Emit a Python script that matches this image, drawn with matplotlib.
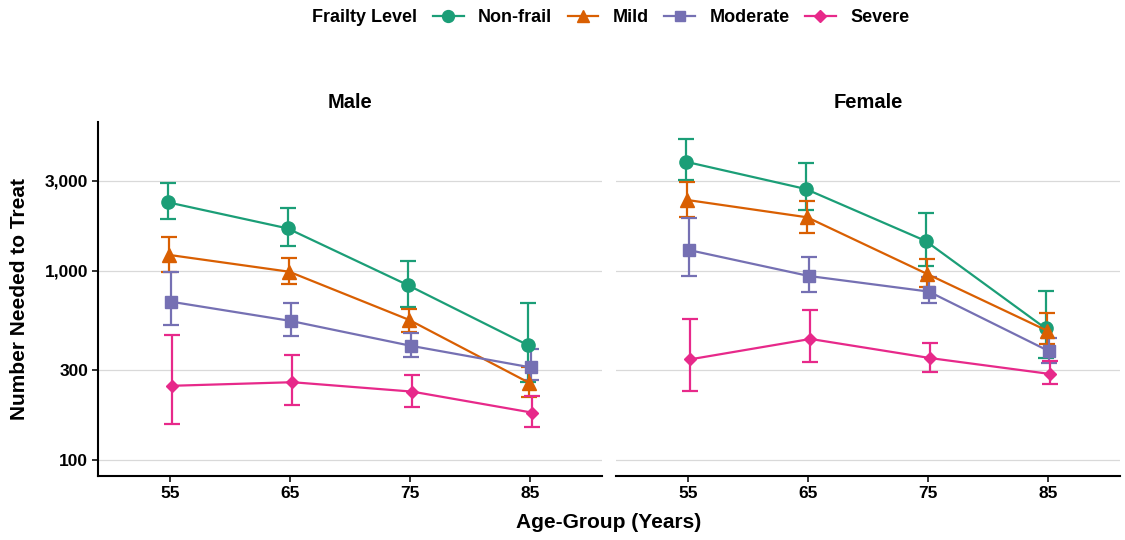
import matplotlib
matplotlib.use("Agg")
import matplotlib.pyplot as plt
from matplotlib.lines import Line2D
from matplotlib.ticker import FixedLocator, FixedFormatter, NullLocator
import numpy as np

plt.rcParams['font.family'] = ['Liberation Sans', 'DejaVu Sans']
plt.rcParams['font.weight'] = 'bold'

# ---- data ----
age_groups = ["55", "65", "75", "85"]
panels = ["Male", "Female"]
levels = ["Non-frail", "Mild", "Moderate", "Severe"]
colors = ["#1B9E77", "#D95F02", "#7570B3", "#E7298A"]
markers = ["o", "^", "s", "D"]
msizes = [9.5, 9.5, 8.5, 6.5]

male_nnt = {
    "Non-frail": [2310, 1680, 843, 406],
    "Mild":      [1216, 991, 551, 256],
    "Moderate":  [688, 544, 402, 309],
    "Severe":    [247, 258, 230, 178],
}
male_lo = {
    "Non-frail": [1890, 1360, 647, 258],
    "Mild":      [988, 853, 477, 215],
    "Moderate":  [518, 453, 349, 265],
    "Severe":    [156, 195, 191, 150],
}
male_hi = {
    "Non-frail": [2930, 2146, 1134, 680],
    "Mild":      [1508, 1172, 629, 312],
    "Moderate":  [985, 675, 468, 385],
    "Severe":    [459, 359, 282, 218],
}
female_nnt = {
    "Non-frail": [3786, 2716, 1442, 497],
    "Mild":      [2375, 1923, 964, 483],
    "Moderate":  [1291, 941, 778, 377],
    "Severe":    [341, 437, 346, 285],
}
female_lo = {
    "Non-frail": [3030, 2103, 1067, 345],
    "Mild":      [1923, 1595, 826, 410],
    "Moderate":  [941, 778, 675, 327],
    "Severe":    [233, 329, 293, 251],
}
female_hi = {
    "Non-frail": [4977, 3742, 2034, 784],
    "Mild":      [2967, 2356, 1157, 597],
    "Moderate":  [1900, 1190, 933, 440],
    "Severe":    [555, 622, 418, 335],
}
y_ticks = [100, 300, 1000, 3000]
y_tick_labels = ["100", "300", "1,000", "3,000"]

data = {"Male": (male_nnt, male_lo, male_hi),
        "Female": (female_nnt, female_lo, female_hi)}

# ---- figure ----
W, H = 1125, 540
fig = plt.figure(figsize=(W / 100, H / 100), dpi=100)

def frac_rect(x0, x1, ytop, ybot):
    return [x0 / W, 1 - ybot / H, (x1 - x0) / W, (ybot - ytop) / H]

axes = [fig.add_axes(frac_rect(98, 602, 122, 476)),
        fig.add_axes(frac_rect(616, 1120, 122, 476))]

offsets = [-0.02, -0.0067, 0.0067, 0.02]
xpos = np.arange(len(age_groups))

for ax, panel in zip(axes, panels):
    nnt, lo, hi = data[panel]
    ax.set_yscale("log")
    for i, lev in enumerate(levels):
        x = xpos + offsets[i]
        y = np.array(nnt[lev], dtype=float)
        yl = np.array(lo[lev], dtype=float)
        yh = np.array(hi[lev], dtype=float)
        ax.errorbar(x, y, yerr=[y - yl, yh - y], fmt="none", ecolor=colors[i],
                    elinewidth=1.6, capsize=6.0, capthick=1.6, zorder=3)
        ax.plot(x, y, color=colors[i], lw=1.6, marker=markers[i],
                ms=msizes[i], zorder=4)
    ax.set_xlim(-0.6, 3.6)
    ax.set_ylim(82.3, 6140)
    ax.yaxis.set_major_locator(FixedLocator(y_ticks))
    ax.yaxis.set_major_formatter(FixedFormatter(y_tick_labels))
    ax.yaxis.set_minor_locator(NullLocator())
    ax.set_xticks(xpos)
    ax.set_xticklabels(age_groups)
    ax.grid(axis="y", color="#D9D9D9", lw=0.9, zorder=0)
    ax.set_axisbelow(True)
    for s in ["top", "right"]:
        ax.spines[s].set_visible(False)
    ax.spines["bottom"].set_linewidth(1.5)
    ax.spines["left"].set_linewidth(1.5)
    ax.tick_params(axis="both", length=4, width=1.4, color="#333333",
                   labelsize=12.5, pad=3)
    for lbl in ax.get_xticklabels() + ax.get_yticklabels():
        lbl.set_fontweight("bold")
    ax.text(0.5, (476 - 102) / 354, panel, transform=ax.transAxes,
            ha="center", va="center", fontsize=14.5, fontweight="bold")

axes[1].spines["left"].set_visible(False)
axes[1].tick_params(axis="y", left=False, labelleft=False)

fig.text(609 / W, 1 - 523 / H, "Age-Group (Years)", ha="center", va="center",
         fontsize=15, fontweight="bold")
fig.text(20 / W, 1 - 299 / H, "Number Needed to Treat", ha="center",
         va="center", rotation=90, fontsize=15, fontweight="bold")

# legend
handles = [Line2D([], [], color=c, lw=1.6, marker=m, ms=ms * 0.9)
           for c, m, ms in zip(colors, markers, msizes)]
fig.text(417 / W, 1 - 16 / H, "Frailty Level", ha="right", va="center_baseline",
         fontsize=13, fontweight="bold")
fig.legend(handles, levels, loc="center left", bbox_to_anchor=(433 / W, 1 - 18 / H),
           ncol=4, frameon=False, borderpad=0, borderaxespad=0,
           handlelength=1.7, handletextpad=0.8, columnspacing=0.85,
           prop={"size": 13, "weight": "bold"})

fig.savefig("out.png", dpi=100)
